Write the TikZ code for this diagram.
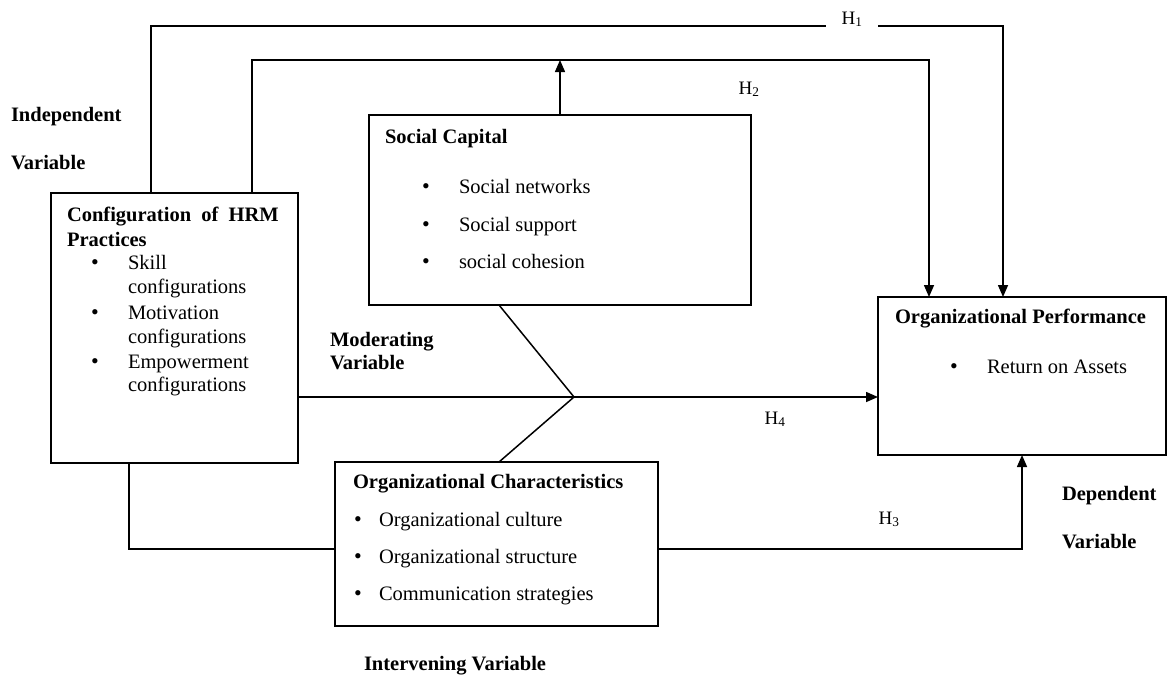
\documentclass[tikz,border=0pt]{standalone}
\usepackage{fontspec}
\setmainfont{Liberation Serif}
\usetikzlibrary{arrows.meta}
\begin{document}
\begin{tikzpicture}[x=1pt,y=-1pt,
  every node/.style={inner sep=0pt, outer sep=0pt},
  box/.style={draw, line width=1.5pt, anchor=north west},
  conn/.style={line width=1.5pt},
  arr/.style={line width=1.5pt, -{Triangle[length=12pt,width=10pt]}},
  txt/.style={anchor=base west, font=\fontsize{20.5}{24}\selectfont},
  btxt/.style={anchor=base west, font=\fontsize{20.5}{24}\selectfont\bfseries},
  hlab/.style={anchor=base, font=\fontsize{19}{24}\selectfont},
  bul/.style={anchor=base, font=\fontsize{22}{24}\selectfont}]
\useasboundingbox (0,0) rectangle (1167,675);

% boxes
\node[box, minimum width=247pt, minimum height=270pt] (hrm) at (51,193) {};
\node[box, minimum width=382pt, minimum height=190pt] (sc) at (369,115) {};
\node[box, minimum width=288pt, minimum height=158pt] (op) at (878,297) {};
\node[box, minimum width=323pt, minimum height=164pt] (oc) at (335,462) {};

% coordinates
\coordinate (h1l) at (151,26);
\coordinate (h1r) at (1003,26);
\coordinate (h1ga) at (826,26);
\coordinate (h1gb) at (878,26);
\coordinate (h2l) at (252,60);
\coordinate (h2r) at (929,60);
\coordinate (mod) at (574,397);
\coordinate (mx) at (499,0);
\coordinate (h3l) at (129,549);
\coordinate (h3r) at (1022,549);

% H1
\draw[conn] (h1l |- hrm.north) -- (h1l) -- (h1ga);
\draw[arr] (h1gb) -- (h1r) -- (h1r |- op.north);
% H2
\draw[arr] (h2l |- hrm.north) -- (h2l) -- (h2r) -- (h2r |- op.north);
\draw[arr] (sc.north) -- (sc.north |- h2l);
% H4 with moderation
\draw[arr] (hrm.east |- mod) -- (op.west |- mod);
\draw[conn] (sc.south -| mx) -- (mod) -- (oc.north -| mx);
% H3
\draw[conn] (h3l |- hrm.south) -- (h3l) -- (oc.west |- h3l);
\draw[arr] (oc.east |- h3l) -- (h3r) -- (h3r |- op.south);

% hypothesis labels
\node[hlab] (lh1) at (852,24) {H\textsubscript{1}};
\node[hlab] (lh2) at (749,94) {H\textsubscript{2}};
\node[hlab] (lh4) at (775,424) {H\textsubscript{4}};
\node[hlab] (lh3) at (889,524) {H\textsubscript{3}};

% side labels
\node[btxt] (ind1) at (11,121) {Independent};
\node[btxt] (ind2) at (11,169) {Variable};
\node[btxt] (mod1) at (330,346) {Moderating};
\node[btxt] (mod2) at (330,369) {Variable};
\node[btxt] (dep1) at (1062,500) {Dependent};
\node[btxt] (dep2) at (1062,548) {Variable};
\node[btxt] (intv) at (364,670) {Intervening Variable};

% HRM box text
\node[btxt] (hrmt1) at (67,221) {Configuration\ \ of\ \ HRM};
\node[btxt] (hrmt2) at (67,246) {Practices};
\node[bul] (hb1) at (95,269) {•};
\node[txt] (hi1a) at (128,269) {Skill};
\node[txt] (hi1b) at (128,293) {configurations};
\node[bul] (hb2) at (95,319) {•};
\node[txt] (hi2a) at (128,319) {Motivation};
\node[txt] (hi2b) at (128,343) {configurations};
\node[bul] (hb3) at (95,368) {•};
\node[txt] (hi3a) at (128,368) {Empowerment};
\node[txt] (hi3b) at (128,391) {configurations};

% Social capital text
\node[btxt] (sct) at (385,143) {Social Capital};
\node[bul] (sb1) at (426,193) {•};
\node[txt] (si1) at (459,193) {Social networks};
\node[bul] (sb2) at (426,231) {•};
\node[txt] (si2) at (459,231) {Social support};
\node[bul] (sb3) at (426,268) {•};
\node[txt] (si3) at (459,268) {social cohesion};

% Organizational performance text
\node[btxt] (opt) at (895,323) {Organizational Performance};
\node[bul] (ob1) at (954,373) {•};
\node[txt] (oi1) at (987,373) {Return on Assets};

% Organizational characteristics text
\node[btxt] (oct) at (353,488) {Organizational Characteristics};
\node[bul] (cb1) at (358,526) {•};
\node[txt] (ci1) at (379,526) {Organizational culture};
\node[bul] (cb2) at (358,563) {•};
\node[txt] (ci2) at (379,563) {Organizational structure};
\node[bul] (cb3) at (358,600) {•};
\node[txt] (ci3) at (379,600) {Communication strategies};
\end{tikzpicture}
\end{document}
